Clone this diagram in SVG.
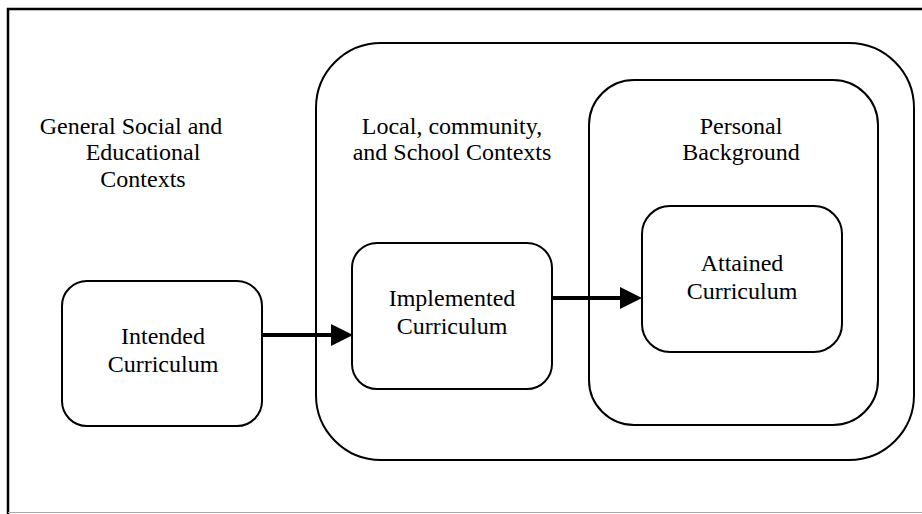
<svg xmlns="http://www.w3.org/2000/svg" width="922" height="514" viewBox="0 0 922 514">
<style>
.box{fill:none;stroke:#000;stroke-width:2}
.t{font-family:'Liberation Serif','Times New Roman','DejaVu Serif',serif;font-size:24px;fill:#000;text-anchor:middle}
.conn{stroke:#000;stroke-width:4;fill:none}
</style>
<defs>
<marker id="ah" markerWidth="22" markerHeight="22" refX="0" refY="11" orient="auto" markerUnits="userSpaceOnUse">
<path d="M0,0 L22,11 L0,22 Z" fill="#000"/>
</marker>
</defs>
<rect width="922" height="514" fill="#fff"/>
<g id="frame">
<path d="M922,9 H8 V514" fill="none" stroke="#000" stroke-width="2.5"/>
<line x1="8" y1="512.5" x2="922" y2="512.5" stroke="#aaa" stroke-width="1"/>
</g>
<g id="general">
<text class="t" x="131" y="134">General Social and</text>
<text class="t" x="143" y="160">Educational</text>
<text class="t" x="143" y="187">Contexts</text>
</g>
<g id="local">
<rect class="box" x="316" y="43" width="598" height="417" rx="65" ry="65"/>
<text class="t" x="452" y="134">Local, community,</text>
<text class="t" x="452" y="160">and School Contexts</text>
</g>
<g id="personal">
<rect class="box" x="589" y="80" width="289" height="345" rx="45" ry="45"/>
<text class="t" x="741" y="134">Personal</text>
<text class="t" x="741" y="160">Background</text>
</g>
<g id="intended">
<rect class="box" x="62" y="281" width="200" height="145" rx="25" ry="25"/>
<text class="t" x="163" y="344">Intended</text>
<text class="t" x="163" y="372">Curriculum</text>
</g>
<g id="implemented">
<rect class="box" x="352" y="243" width="200" height="146" rx="25" ry="25"/>
<text class="t" x="452" y="306">Implemented</text>
<text class="t" x="452" y="334">Curriculum</text>
</g>
<g id="attained">
<rect class="box" x="642" y="206" width="200" height="146" rx="28" ry="28"/>
<text class="t" x="742" y="271">Attained</text>
<text class="t" x="742" y="299">Curriculum</text>
</g>
<g id="connectors">
<line class="conn" x1="262" y1="335" x2="331" y2="335" marker-end="url(#ah)"/>
<line class="conn" x1="552" y1="298" x2="620" y2="298" marker-end="url(#ah)"/>
</g>
</svg>
